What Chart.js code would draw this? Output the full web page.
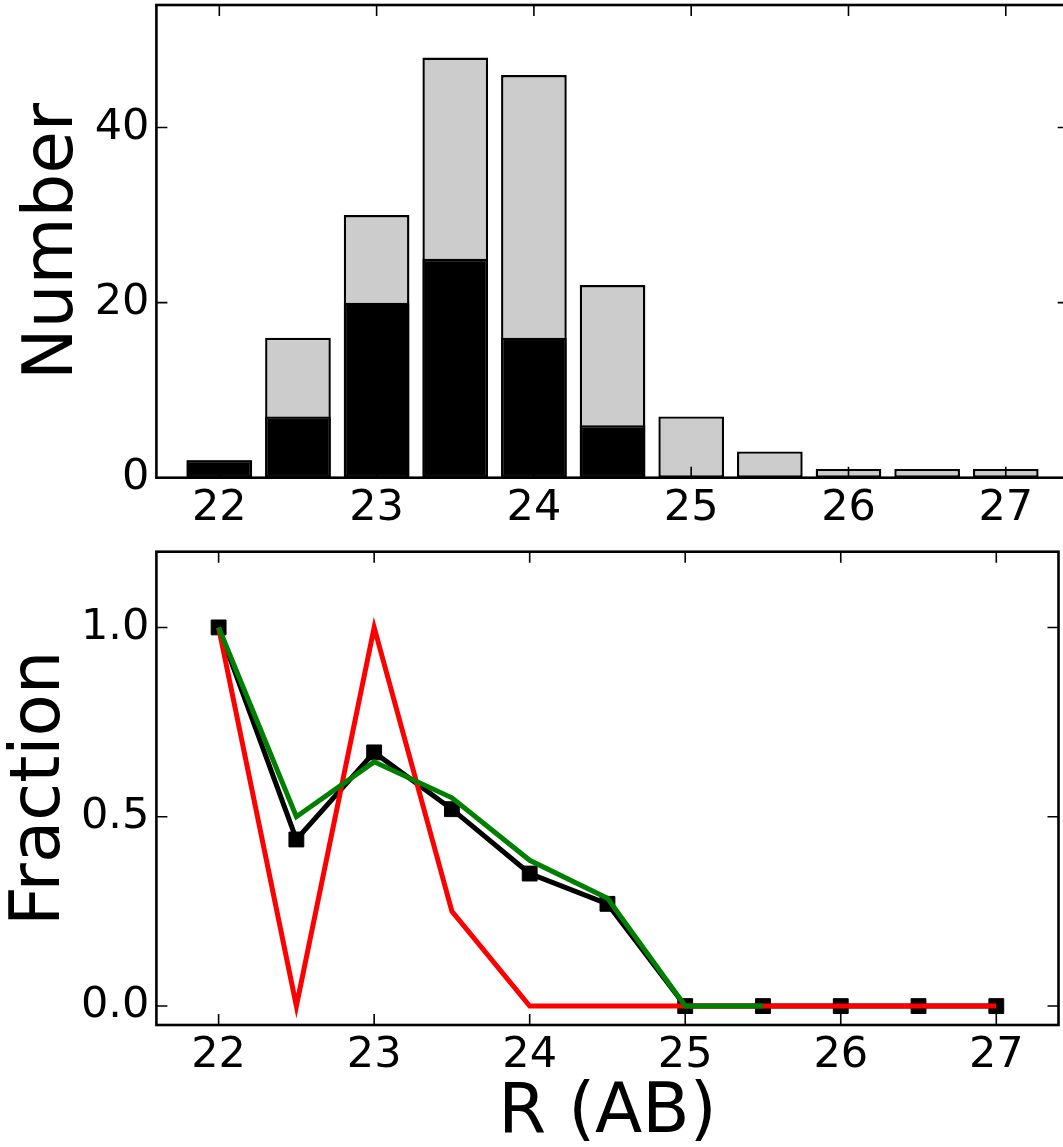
<!DOCTYPE html>
<html>
<head>
<meta charset="utf-8">
<script src="https://cdn.jsdelivr.net/npm/chart.js@4/dist/chart.umd.min.js"></script>
<style>
  html, body { margin: 0; padding: 0; background: #fff; overflow: hidden; }
  #wrap { position: relative; width: 1063px; height: 1147px; overflow: hidden; }
  canvas { position: absolute; left: 0; }
  #c1 { top: 0; }
  #c2 { top: 540px; }
</style>
</head>
<body>
<div id="wrap">
  <canvas id="c1" width="1070" height="540"></canvas>
  <canvas id="c2" width="1070" height="607"></canvas>
</div>
<script>
// ---- data ----
const rMag        = [22, 22.5, 23, 23.5, 24, 24.5, 25, 25.5, 26, 26.5, 27];
const countsAll   = [2, 16, 30, 48, 46, 22, 7, 3, 1, 1, 1];
const countsBlack = [2, 7, 20, 25, 16, 6, 0, 0, 0, 0, 0];

const fracBlack   = [1.0, 0.44, 0.67, 0.52, 0.35, 0.27, 0.0, 0.0, 0.0, 0.0, 0.0];
const fracRed     = [1.0, 0.0, 1.0, 0.25, 0.0, 0.0, 0.0, 0.0, 0.0, 0.0, 0.0];
const rMagGreen   = [22, 22.5, 23, 23.5, 24, 24.5, 25, 25.5];
const fracGreen   = [1.0, 0.5, 0.645, 0.55, 0.385, 0.285, 0.0, 0.0];

const xTicks      = [22, 23, 24, 25, 26, 27];
const yTicksTop   = [0, 20, 40];
const yTicksBot   = [0, 0.5, 1.0];

const FONT = "'DejaVu Sans', sans-serif";
const TICK_LEN = 11;

const frameTicks = {
  id: 'frameTicks',
  afterDraw(chart) {
    const { ctx, chartArea: { left, right, top, bottom }, scales: { x, y } } = chart;
    ctx.save();
    ctx.strokeStyle = '#000';
    ctx.lineWidth = 1.6;
    ctx.beginPath();
    x.ticks.forEach(t => {
      const px = x.getPixelForValue(t.value);
      ctx.moveTo(px, bottom); ctx.lineTo(px, bottom - TICK_LEN);
      ctx.moveTo(px, top); ctx.lineTo(px, top + TICK_LEN);
    });
    y.ticks.forEach(t => {
      const py = y.getPixelForValue(t.value);
      ctx.moveTo(left, py); ctx.lineTo(left + TICK_LEN, py);
      ctx.moveTo(right, py); ctx.lineTo(right - TICK_LEN, py);
    });
    ctx.stroke();
    ctx.lineWidth = 2.6;
    ctx.strokeRect(left, top, right - left, bottom - top);
    ctx.restore();
  }
};

function zeroPad(s) {
  s.paddingTop = 0; s.paddingBottom = 0; s.paddingLeft = 0; s.paddingRight = 0;
}

function xScale(axisHeight, titleOpts) {
  return {
    type: 'linear', min: 21.6, max: 27.4, offset: false,
    grid: { display: false, drawTicks: false },
    border: { display: false },
    afterBuildTicks: s => { s.ticks = xTicks.map(v => ({ value: v })); },
    afterFit: s => { s.height = axisHeight; zeroPad(s); },
    ticks: { color: '#000', padding: 5, maxRotation: 0, autoSkip: false,
             font: { family: FONT, size: 43 }, callback: v => String(v) },
    title: titleOpts || { display: false }
  };
}

function yScale(min, max, ticks, fmt, titleText, titlePad) {
  return {
    type: 'linear', min: min, max: max,
    grid: { display: false, drawTicks: false },
    border: { display: false },
    afterBuildTicks: s => { s.ticks = ticks.map(v => ({ value: v })); },
    afterFit: s => { s.width = 156.4; zeroPad(s); },
    ticks: { color: '#000', padding: 7, font: { family: FONT, size: 43 }, callback: fmt },
    title: { display: true, text: titleText, color: '#000',
             font: { family: FONT, size: 69 }, padding: { top: titlePad, bottom: 0 } }
  };
}

// ---- top panel: histogram ----
new Chart(document.getElementById('c1'), {
  type: 'bar',
  data: { datasets: [
    { label: 'subset', data: rMag.map((x, i) => ({ x: x, y: countsBlack[i] })),
      backgroundColor: '#000000', borderColor: '#000000', borderWidth: 2.4, borderSkipped: false,
      grouped: false, order: 0, barPercentage: 0.835, categoryPercentage: 1.0 },
    { label: 'all', data: rMag.map((x, i) => ({ x: x, y: countsAll[i] })),
      backgroundColor: '#cccccc', borderColor: '#000000', borderWidth: 2.4, borderSkipped: false,
      grouped: false, order: 1, barPercentage: 0.835, categoryPercentage: 1.0 }
  ]},
  options: {
    responsive: false, devicePixelRatio: 1, animation: false,
    layout: { padding: { top: 5, right: 1.3, left: 0, bottom: 0 } },
    plugins: { legend: { display: false }, tooltip: { enabled: false } },
    scales: { x: xScale(540 - 477.7), y: yScale(0, 54, yTicksTop, v => String(v), 'Number', 12.7) }
  },
  plugins: [frameTicks]
});

// ---- bottom panel: fractions ----
new Chart(document.getElementById('c2'), {
  type: 'line',
  data: { datasets: [
    { label: 'green', data: rMagGreen.map((x, i) => ({ x: x, y: fracGreen[i] })),
      borderColor: '#008000', backgroundColor: '#008000', borderWidth: 5,
      pointRadius: 0, tension: 0, fill: false, order: 0 },
    { label: 'red', data: rMag.map((x, i) => ({ x: x, y: fracRed[i] })),
      borderColor: '#ff0000', backgroundColor: '#ff0000', borderWidth: 5,
      pointRadius: 0, tension: 0, fill: false, order: 1 },
    { label: 'black', data: rMag.map((x, i) => ({ x: x, y: fracBlack[i] })),
      borderColor: '#000000', backgroundColor: '#000000', borderWidth: 5,
      pointStyle: 'rect', pointRadius: 10.5, pointBorderWidth: 1,
      pointBorderColor: '#000000', pointBackgroundColor: '#000000',
      tension: 0, fill: false, order: 2 }
  ]},
  options: {
    responsive: false, devicePixelRatio: 1, animation: false,
    layout: { padding: { top: 11.7, right: 1.3, left: 0, bottom: 0 } },
    plugins: { legend: { display: false }, tooltip: { enabled: false } },
    scales: {
      x: xScale(607 - 485, {
        display: true, text: 'R (AB)', color: '#000',
        font: { family: FONT, size: 69 }, padding: { top: 0, bottom: -8 }
      }),
      y: yScale(-0.05, 1.2, yTicksBot, v => Number(v).toFixed(1), 'Fraction', 0)
    }
  },
  plugins: [frameTicks]
});
</script>
</body>
</html>
